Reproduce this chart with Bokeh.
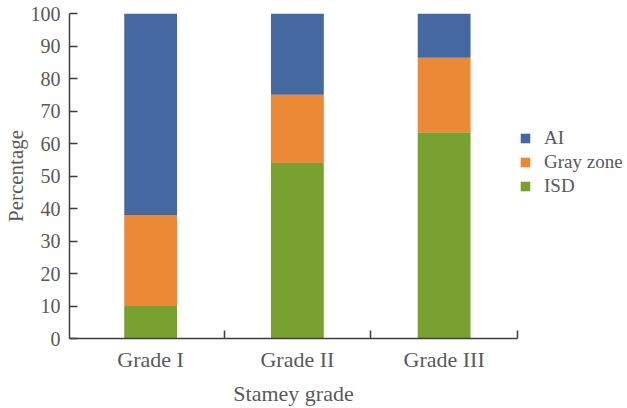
from bokeh.plotting import figure
from bokeh.models import (Range1d, FixedTicker, Legend, LegendItem, ColumnDataSource)
from bokeh.embed import file_html
from bokeh.resources import INLINE

categories = ["Grade I", "Grade II", "Grade III"]
isd = [10.0, 54.0, 63.5]
gray_zone = [28.0, 21.0, 22.9]
ai = [62.0, 25.0, 13.6]
series_names = ["ISD", "Gray zone", "AI"]
colors = ["#79A130", "#EC8936", "#4568A0"]
y_ticks = [0, 10, 20, 30, 40, 50, 60, 70, 80, 90, 100]

xs = [i + 0.5 for i in range(len(categories))]
bounds = list(range(1, len(categories) + 1))

src = ColumnDataSource(dict(x=xs, ISD=isd, **{"Gray zone": gray_zone}, AI=ai))

FONT = "Liberation Serif"
TXT = "#595959"
AX = "#3f3f3f"

p = figure(frame_width=448, frame_height=325, output_backend="svg", toolbar_location=None,
           x_range=Range1d(-0.053, len(categories)), y_range=Range1d(0, 100),
           min_border_left=69, min_border_right=2, min_border_top=13, min_border_bottom=66)
p.outline_line_color = None
p.grid.grid_line_color = None
p.background_fill_color = "white"
p.border_fill_color = "white"

rs = p.vbar_stack(series_names, x="x", width=0.36, color=colors, line_color=None, source=src)

# axes
xa = p.xaxis[0]
xa.ticker = FixedTicker(ticks=xs, minor_ticks=bounds)
xa.major_label_overrides = {x: c for x, c in zip(xs, categories)}
xa.major_tick_in = 0
xa.major_tick_out = 0
xa.minor_tick_in = 8
xa.minor_tick_out = 0
xa.minor_tick_line_color = AX
xa.minor_tick_line_width = 1.5
xa.axis_line_color = AX
xa.axis_line_width = 1.5
xa.major_label_text_font = FONT
xa.major_label_text_font_size = "22px"
xa.major_label_text_color = TXT
xa.major_label_standoff = 8
xa.axis_label = "Stamey grade"
xa.axis_label_text_font = FONT
xa.axis_label_text_font_size = "22px"
xa.axis_label_text_font_style = "normal"
xa.axis_label_text_color = TXT
xa.axis_label_standoff = 6

ya = p.yaxis[0]
ya.ticker = FixedTicker(ticks=y_ticks)
ya.major_tick_in = 8
ya.major_tick_out = 0
ya.minor_tick_line_color = None
ya.major_tick_line_color = AX
ya.major_tick_line_width = 1.5
ya.axis_line_color = AX
ya.axis_line_width = 1.5
ya.major_label_text_font = FONT
ya.major_label_text_font_size = "20px"
ya.major_label_text_color = TXT
ya.major_label_standoff = 9
ya.axis_label = "Percentage"
ya.axis_label_text_font = FONT
ya.axis_label_text_font_size = "21px"
ya.axis_label_text_font_style = "normal"
ya.axis_label_text_color = TXT
ya.axis_label_standoff = 0

items = [LegendItem(label=series_names[i], renderers=[rs[i]]) for i in [2, 1, 0]]
legend = Legend(items=items, location=(2, 140), orientation="vertical",
                glyph_width=12, glyph_height=12, label_standoff=13, spacing=0,
                label_height=24, padding=0, margin=0, border_line_color=None,
                background_fill_alpha=0, label_text_font=FONT,
                label_text_font_size="19px", label_text_color=TXT)
p.add_layout(legend, "right")

open("out.html", "w").write(file_html(p, INLINE))
